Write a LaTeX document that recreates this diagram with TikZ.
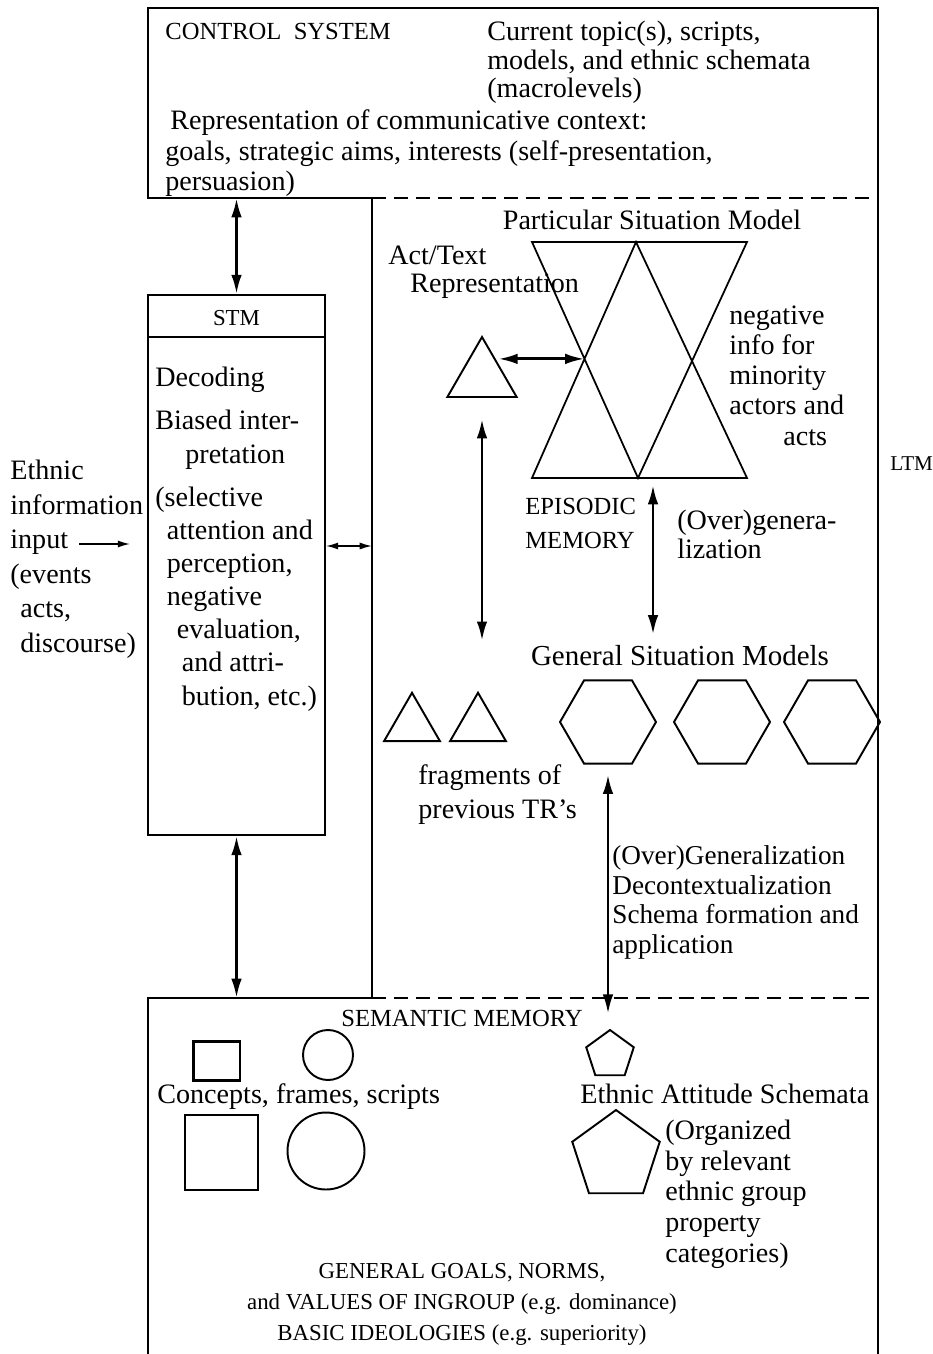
\documentclass[tikz,border=0pt]{standalone}
\usepackage{fontspec}
\setmainfont{Liberation Serif}
\usetikzlibrary{arrows.meta,shapes.geometric}
\tikzset{
	txt/.style={inner sep=0pt,anchor=base west,align=left,font=\fontsize{16}{#1}\selectfont},
	txt/.default=17,
	caps/.style={inner sep=0pt,anchor=base,align=left,font=\fontsize{#1}{19}\selectfont},
	caps/.default=14,
	dbl/.style={<->,line width=1.6pt,>={Latex[length=11pt,width=6pt]}},
	thn/.style={line width=0.9pt,>={Latex[length=7pt,width=4pt]}},
	poly/.style={draw,line width=1.1pt,regular polygon,regular polygon sides=#1,inner sep=0pt},
	frame/.style={line width=1pt},
	dsh/.style={line width=1pt,dash pattern=on 8pt off 4.5pt}
}
\begin{document}
\begin{tikzpicture}[x=0.02cm,y=-0.02cm]
	\useasboundingbox (0,0) rectangle (932,1354);
	\draw[frame] (372,198)--(148,198)--(148,8)--(878,8)--(878,1354);
	\draw[frame] (372,198)--(372,998)--(148,998)--(148,1354);
	\draw[dsh] (372,198)--(878,198) (372,998)--(878,998);
	\coordinate (ctrl) at (236.5,198);
	\coordinate (sem) at (236.5,998);
	\coordinate (ltm) at (372,546);
	\coordinate (inp) at (79,544);
	\node[caps,anchor=base west] (cs) at (165,40) {CONTROL\ \ SYSTEM};
	\node[txt=16.5] (topic) at (487,98) {Current topic(s), scripts,\\models, and ethnic schemata\\(macrolevels)};
	\node[txt] (rep) at (170,130) {Representation of communicative context:};
	\node[txt=17.5] (aims) at (165,191) {goals, strategic aims, interests (self-presentation,\\persuasion)};
	\node[draw,frame,minimum width=3.54cm,minimum height=10.8cm,inner sep=0pt] (stm) at (236.5,565) {};
	\draw[frame] (stm.north west)++(0,43)--++(177,0);
	\node[caps=13] (stmt) at (236.5,326) {STM};
	\node[txt] (dec) at (155,386) {Decoding};
	\node[txt=19.3] (bias) at (155,463) {Biased inter-\\\hspace*{0.6cm}pretation};
	\node[txt=18.8] (sel) at (155,705) {(selective\\\hspace*{0.23cm}attention and\\\hspace*{0.23cm}perception,\\\hspace*{0.23cm}negative\\\hspace*{0.43cm}evaluation,\\\hspace*{0.53cm}and attri-\\\hspace*{0.53cm}bution, etc.)};
	\node[txt=19.6] (ein) at (10,652) {Ethnic\\information\\input\\(events\\\hspace*{0.2cm}acts,\\\hspace*{0.2cm}discourse)};
	\draw[thn,->,shorten >=0.34cm] (inp)--(inp -| stm.west);
	\draw[thn,<->] (ltm -| stm.east)--(ltm);
	\draw[dbl] (ctrl)--(stm.north);
	\draw[dbl] (stm.south)--(sem);
	\node[caps=12,anchor=base west] (ltmt) at (890,470) {LTM};
	\node[txt,anchor=base] (psm) at (652,230) {Particular Situation Model};
	\node[txt=16] (act) at (388,293) {Act/Text\\\hspace*{0.44cm}Representation};
	\coordinate (h1) at (532,242);
	\coordinate (h2) at (636,242);
	\coordinate (h3) at (747,242);
	\coordinate (h4) at (532,478);
	\coordinate (h5) at (638,478);
	\coordinate (h6) at (747,478);
	\draw[line width=1pt] (h1)--(h3)--(h5)--cycle (h4)--(h2)--(h6)--cycle;
	\coordinate (hx) at (intersection of h1--h5 and h2--h4);
	\node[txt=17.2] (neg) at (729,445) {negative\\info for\\minority\\actors and\\\hspace*{1.08cm}acts};
	\node[poly=3,minimum size=1.6cm] (tr) at (482,377) {};
	\draw[dbl] (hx -| tr.40)--(hx);
	\node[caps,anchor=base west] (epm) at (525,548) {EPISODIC\\MEMORY};
	\node[txt=16.5] (ovg) at (677,558) {(Over)genera-\\lization};
	\node[txt,anchor=base,font=\fontsize{16.5}{17}\selectfont] (gsm) at (680,665) {General Situation Models};
	\coordinate (epi) at (653,478);
	\draw[dbl,shorten <=0.14cm,shorten >=0.2cm] (epi)--(epi |- gsm.north);
	\foreach \i/\x in {1/608,2/722,3/832} \node[poly=6,minimum size=1.92cm] (g\i) at (\x,722) {};
	\foreach \i/\x in {1/412,2/478} \node[poly=3,minimum size=1.29cm] (f\i) at (\x,725) {};
	\draw[dbl,shorten <=0.42cm,shorten >=1cm] (tr.south)--(tr.south |- f2.north);
	\node[txt=18.8] (frg) at (418,818) {fragments of\\previous TR’s};
	\node[txt=16.7,font=\fontsize{15.5}{16.7}\selectfont] (ogen) at (612,953) {(Over)Generalization\\Decontextualization\\Schema formation and\\application};
	\node[draw,line width=1.7pt,minimum width=0.94cm,minimum height=0.78cm,inner sep=0pt] (sq1) at (216.5,1060.5) {};
	\node[draw,circle,line width=1.1pt,minimum size=1cm,inner sep=0pt] (c1) at (328,1055) {};
	\node[draw,line width=1.1pt,minimum width=1.46cm,minimum height=1.5cm,inner sep=0pt] (sq2) at (221.5,1152.5) {};
	\node[draw,circle,line width=1.1pt,minimum size=1.54cm,inner sep=0pt] (c2) at (326,1151) {};
	\node[poly=5,minimum size=1cm] (ps) at (610,1055) {};
	\node[poly=5,minimum size=1.84cm] (pb) at (616,1156) {};
	\draw[dbl,shorten <=0.2cm,shorten >=0.3cm] (g1.south)--(g1.south |- ps.north);
	\node[caps] (semt) at (462,1026) {SEMANTIC MEMORY};
	\node[txt] (cfs) at (157,1103) {Concepts, frames, scripts};
	\node[txt] (eas) at (580,1103) {Ethnic Attitude Schemata};
	\node[txt=17.4] (org) at (665,1262) {(Organized\\by relevant\\ethnic group\\property\\categories)};
	\node[caps,align=center,font=\fontsize{13}{17.6}\selectfont] (ideo) at (462,1340) {GENERAL GOALS, NORMS,\\and VALUES OF INGROUP (e.g. dominance)\\BASIC IDEOLOGIES (e.g. superiority)};
\end{tikzpicture}
\end{document}
